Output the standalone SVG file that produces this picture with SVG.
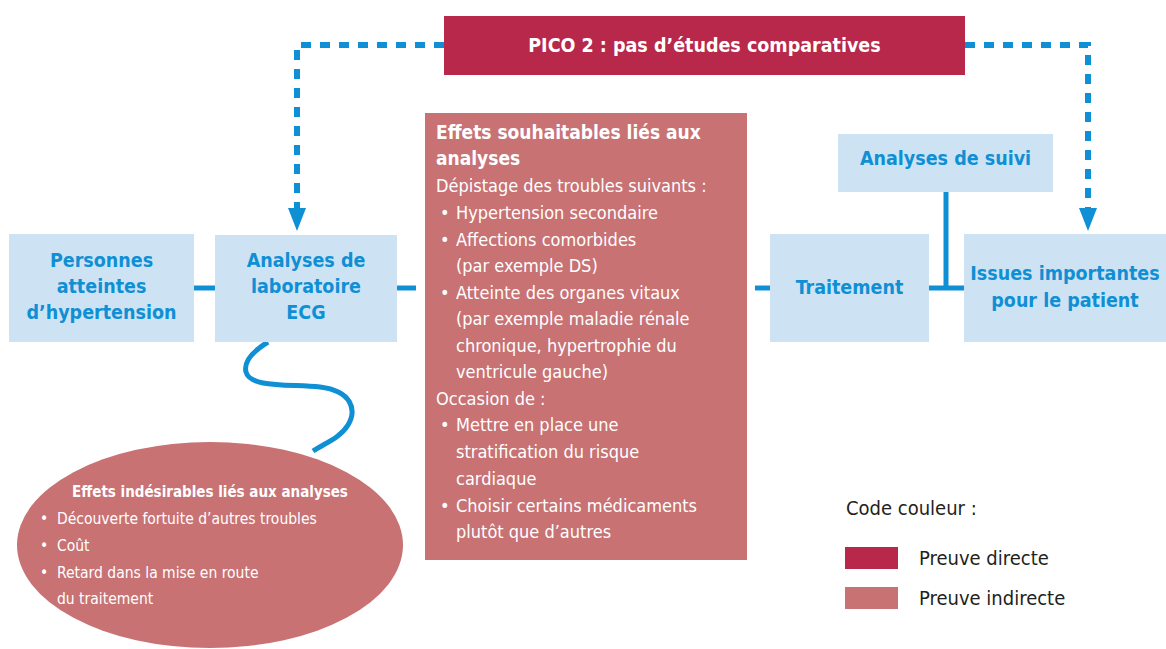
<svg xmlns="http://www.w3.org/2000/svg" width="1166" height="649" viewBox="0 0 1166 649">
<style>
text{font-family:"Liberation Sans Narrow","DejaVu Sans Condensed","Liberation Sans",sans-serif}
.box{fill:#cde3f4}
.bt{fill:#0f8fd4;font-weight:bold;font-size:19.5px;text-anchor:middle}
.rt{fill:#ffffff;font-size:18px}
.rb{fill:#ffffff;font-size:19px;font-weight:bold}
.et{fill:#ffffff;font-size:15.5px}
.lt{fill:#231f20;font-size:20px}
.ln{stroke:#0f8fd4;stroke-width:5;fill:none}
.dash{stroke:#0f8fd4;stroke-width:6;fill:none;stroke-dasharray:10 9}
.ah{fill:#0f8fd4}
</style>
<rect width="1166" height="649" fill="#ffffff"/>
<g id="connectors">
<path class="dash" d="M444 45 H297 V208"/>
<polygon class="ah" points="288,208 306,208 297,231"/>
<path class="dash" d="M965 45 H1088 V208"/>
<polygon class="ah" points="1079,208 1097,208 1088,231"/>
<line class="ln" x1="193" y1="288" x2="215" y2="288"/>
<line class="ln" x1="396" y1="288" x2="416" y2="288"/>
<line class="ln" x1="755" y1="288" x2="770" y2="288"/>
<line class="ln" x1="929" y1="288" x2="964" y2="288"/>
<line class="ln" x1="946" y1="191" x2="946" y2="288"/>
<path class="ln" d="M268 342 C255 350 243 360 246 372 C250 388 290 384 320 387 C352 391 357 410 348 425 C340 438 325 443 313 451"/>
</g>
<g id="pico">
<rect x="444" y="16" width="521" height="59" fill="#b7284a"/>
<text x="704.5" y="52" text-anchor="middle" fill="#ffffff" font-size="19.5" font-weight="bold">PICO 2 : pas d’études comparatives</text>
</g>
<g id="personnes">
<rect class="box" x="9" y="234" width="185" height="108"/>
<text class="bt" x="101.5"><tspan x="101.5" y="267">Personnes</tspan><tspan x="101.5" y="293">atteintes</tspan><tspan x="101.5" y="319">d’hypertension</tspan></text>
</g>
<g id="analyses">
<rect class="box" x="215" y="235" width="182" height="107"/>
<text class="bt" x="306"><tspan x="306" y="267">Analyses de</tspan><tspan x="306" y="293">laboratoire</tspan><tspan x="306" y="319">ECG</tspan></text>
</g>
<g id="effets-souhaitables">
<rect x="425" y="113" width="322" height="447" fill="#c87274"/>
<text class="rb" x="436" y="139">Effets souhaitables liés aux</text>
<text class="rb" x="436" y="165">analyses</text>
<text class="rt">
<tspan x="436" y="192">Dépistage des troubles suivants :</tspan>
<tspan x="440" y="219">•</tspan><tspan x="456" y="219">Hypertension secondaire</tspan>
<tspan x="440" y="246">•</tspan><tspan x="456" y="246">Affections comorbides</tspan>
<tspan x="456" y="272">(par exemple DS)</tspan>
<tspan x="440" y="299">•</tspan><tspan x="456" y="299">Atteinte des organes vitaux</tspan>
<tspan x="456" y="325">(par exemple maladie rénale</tspan>
<tspan x="456" y="352">chronique, hypertrophie du</tspan>
<tspan x="456" y="378">ventricule gauche)</tspan>
<tspan x="436" y="405">Occasion de :</tspan>
<tspan x="440" y="431">•</tspan><tspan x="456" y="431">Mettre en place une</tspan>
<tspan x="456" y="458">stratification du risque</tspan>
<tspan x="456" y="485">cardiaque</tspan>
<tspan x="440" y="512">•</tspan><tspan x="456" y="512">Choisir certains médicaments</tspan>
<tspan x="456" y="538">plutôt que d’autres</tspan>
</text>
</g>
<g id="effets-indesirables">
<ellipse cx="210" cy="545" rx="193" ry="103" fill="#c87274"/>
<text x="210" y="497" text-anchor="middle" fill="#ffffff" font-size="15" font-weight="bold">Effets indésirables liés aux analyses</text>
<text class="et">
<tspan x="40" y="524">•</tspan><tspan x="57" y="524">Découverte fortuite d’autres troubles</tspan>
<tspan x="40" y="551">•</tspan><tspan x="57" y="551">Coût</tspan>
<tspan x="40" y="578">•</tspan><tspan x="57" y="578">Retard dans la mise en route</tspan>
<tspan x="57" y="604">du traitement</tspan>
</text>
</g>
<g id="traitement">
<rect class="box" x="770" y="234" width="159" height="108"/>
<text class="bt" x="849.5" y="294">Traitement</text>
</g>
<g id="suivi">
<rect class="box" x="838" y="134" width="215" height="58"/>
<text class="bt" x="945.5" y="165">Analyses de suivi</text>
</g>
<g id="issues">
<rect class="box" x="964" y="234" width="202" height="108"/>
<text class="bt"><tspan x="1065" y="280">Issues importantes</tspan><tspan x="1065" y="307">pour le patient</tspan></text>
</g>
<g id="legend">
<text class="lt" x="846" y="515">Code couleur :</text>
<rect x="845" y="547" width="53" height="22" fill="#b7284a"/>
<text class="lt" x="919" y="565">Preuve directe</text>
<rect x="845" y="587" width="53" height="22" fill="#c87274"/>
<text class="lt" x="919" y="605">Preuve indirecte</text>
</g>
</svg>
